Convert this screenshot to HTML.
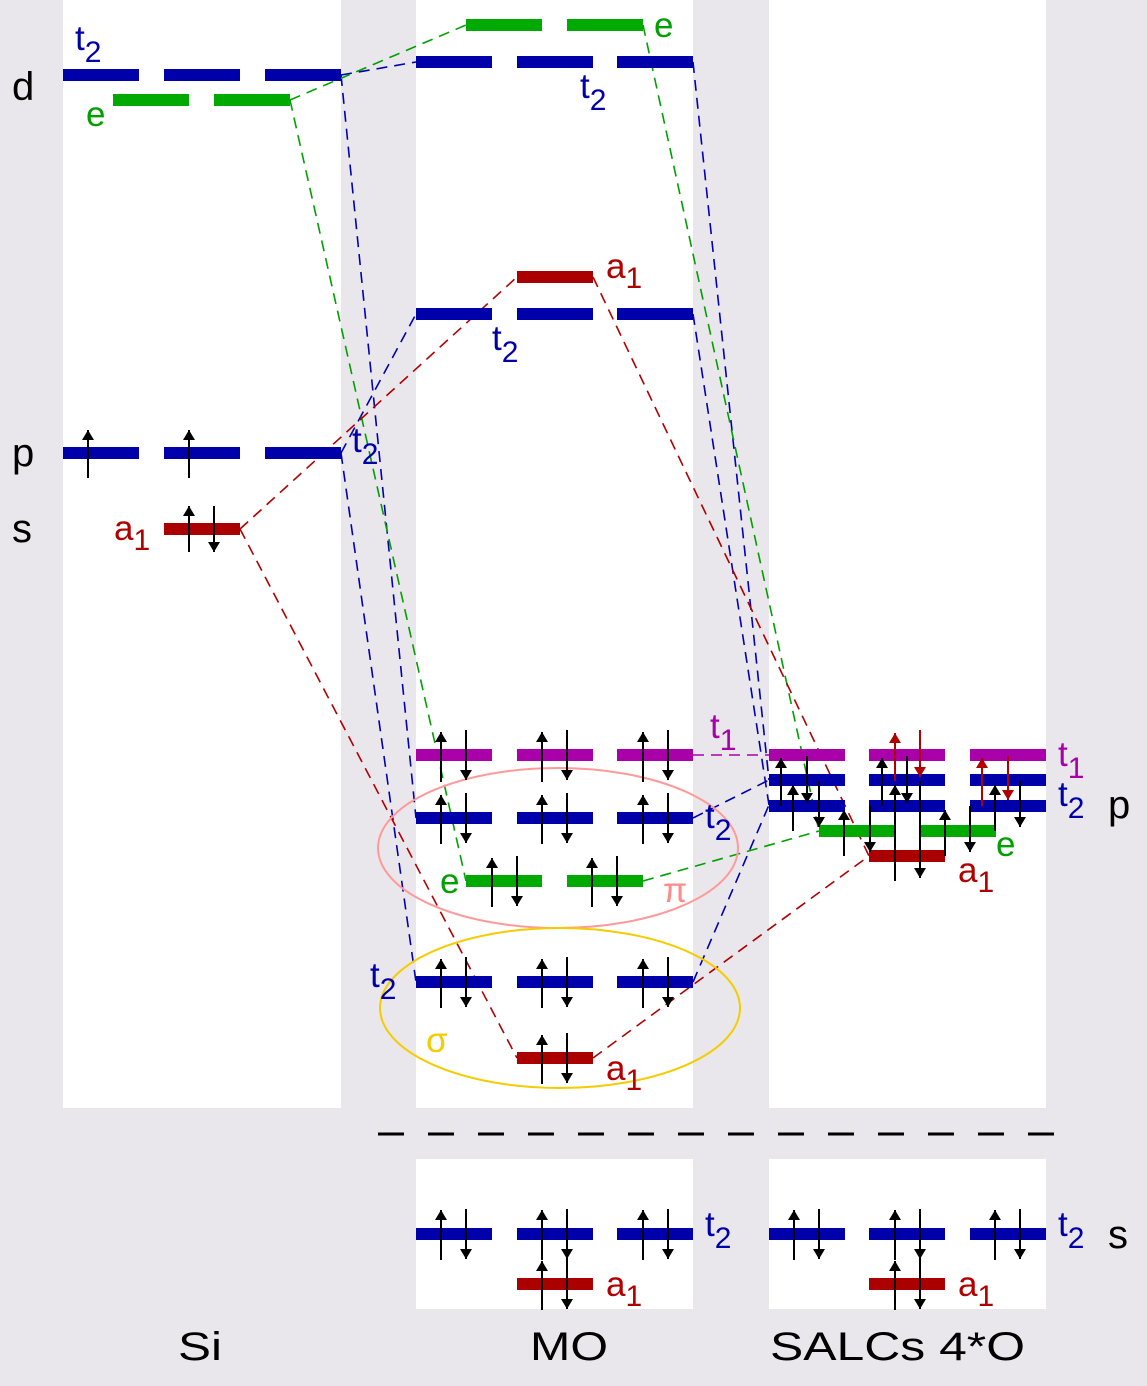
<!DOCTYPE html>
<html><head><meta charset="utf-8"><style>
html,body{margin:0;padding:0;background:#e9e7eb}
svg{display:block}
text{font-family:"Liberation Sans",sans-serif}
</style></head><body>
<svg width="1147" height="1386" viewBox="0 0 1147 1386" xmlns="http://www.w3.org/2000/svg">
<defs>
<marker id="ah" viewBox="0 0 10 12" refX="10" refY="6" markerWidth="10" markerHeight="12" markerUnits="userSpaceOnUse" orient="auto"><path d="M0,0L10,6L0,12z" fill="#000"/></marker>
<marker id="ahr" viewBox="0 0 10 12" refX="10" refY="6" markerWidth="10" markerHeight="12" markerUnits="userSpaceOnUse" orient="auto"><path d="M0,0L10,6L0,12z" fill="#b00000"/></marker>
</defs>
<rect width="1147" height="1386" fill="#e9e7eb"/>
<rect x="63" y="0" width="278" height="1108" fill="#fff"/>
<rect x="416" y="0" width="277" height="1108" fill="#fff"/>
<rect x="769" y="0" width="277" height="1108" fill="#fff"/>
<rect x="416" y="1159" width="277" height="150" fill="#fff"/>
<rect x="769" y="1159" width="277" height="150" fill="#fff"/>
<line x1="378" y1="1134" x2="1065" y2="1134" stroke="#000" stroke-width="3" stroke-dasharray="26,24"/>

<g fill="none" stroke-width="1.6" stroke-dasharray="11,7">
<g stroke="#0000b0">
<path d="M341,75L416,62"/><path d="M341,75L416,818"/><path d="M341,453L416,314"/><path d="M341,453L416,982"/>
<path d="M693,62L769,780"/><path d="M693,314L769,805"/><path d="M693,818L769,780"/><path d="M693,982L769,805"/>
</g>
<g stroke="#00a000">
<path d="M290,100L466,25"/><path d="M290,100L466,881"/><path d="M643,25L819,831"/><path d="M643,881L819,831"/>
</g>
<g stroke="#b00000">
<path d="M240,529L517,277"/><path d="M240,529L517,1058"/><path d="M593,277L869,856"/><path d="M593,1058L869,856"/>
</g>
<path d="M693,755L769,755" stroke="#aa00aa"/>
</g>

<ellipse cx="558" cy="848" rx="180" ry="80" fill="none" stroke="#ff9a9a" stroke-width="2"/>
<ellipse cx="560" cy="1008" rx="180" ry="80" fill="none" stroke="#f5cc00" stroke-width="2"/>

<g stroke-width="12">
<g stroke="#0000aa">
<path d="M63,75h76M164,75h76M265,75h76"/>
<path d="M63,453h76M164,453h76M265,453h76"/>
<path d="M416,62h76M517,62h76M617,62h76"/>
<path d="M416,314h76M517,314h76M617,314h76"/>
<path d="M416,818h76M517,818h76M617,818h76"/>
<path d="M416,982h76M517,982h76M617,982h76"/>
<path d="M416,1234h76M517,1234h76M617,1234h76"/>
<path d="M769,780h76M869,780h76M970,780h76"/>
<path d="M769,806h76M869,806h76M970,806h76"/>
<path d="M769,1234h76M869,1234h76M970,1234h76"/>
</g>
<g stroke="#00aa00">
<path d="M113,100h76M214,100h76"/>
<path d="M466,25h76M567,25h76"/>
<path d="M466,881h76M567,881h76"/>
<path d="M819,831h76M920,831h76"/>
</g>
<g stroke="#aa0000">
<path d="M164,529h76"/><path d="M517,277h76"/><path d="M517,1058h76"/><path d="M517,1284h76"/>
<path d="M869,856h76"/><path d="M869,1284h76"/>
</g>
<g stroke="#aa00aa">
<path d="M416,755h76M517,755h76M617,755h76"/>
<path d="M769,755h76M869,755h76M970,755h76"/>
</g>
</g>

<g stroke="#000" stroke-width="2" marker-end="url(#ah)">
<path d="M88,478V430"/><path d="M189,478V430"/>
<path d="M189,552V506"/><path d="M214,506V552"/>
<path d="M441,782V732"/><path d="M466,730V780"/><path d="M542,782V732"/><path d="M567,730V780"/><path d="M643,782V732"/><path d="M668,730V780"/>
<path d="M441,844V795"/><path d="M466,793V843"/><path d="M542,844V795"/><path d="M567,793V843"/><path d="M643,844V795"/><path d="M668,793V843"/>
<path d="M492,907V858"/><path d="M517,856V906"/><path d="M592,907V858"/><path d="M617,856V906"/>
<path d="M441,1008V959"/><path d="M466,957V1007"/><path d="M542,1008V959"/><path d="M567,957V1007"/><path d="M643,1008V959"/><path d="M668,957V1007"/>
<path d="M542,1084V1035"/><path d="M567,1033V1083"/>
<path d="M441,1260V1210"/><path d="M466,1209V1259"/><path d="M542,1260V1210"/><path d="M567,1209V1259"/><path d="M643,1260V1210"/><path d="M668,1209V1259"/>
<path d="M542,1310V1261"/><path d="M567,1259V1309"/>
<path d="M794,1260V1210"/><path d="M819,1209V1259"/><path d="M895,1260V1210"/><path d="M920,1209V1259"/><path d="M995,1260V1210"/><path d="M1020,1209V1259"/>
<path d="M895,1310V1261"/><path d="M920,1259V1309"/>
<path d="M781,806V758"/><path d="M807,756V803"/><path d="M793,831V785"/><path d="M819,781V827"/><path d="M844,856V810"/>
<path d="M882,806V758"/><path d="M907,756V803"/><path d="M895,881V785"/><path d="M920,781V878"/><path d="M870,806V852"/><path d="M945,856V810"/>
<path d="M995,831V785"/><path d="M1020,781V827"/><path d="M970,806V852"/>
</g>
<g stroke="#b00000" stroke-width="2" marker-end="url(#ahr)">
<path d="M895,781V733"/><path d="M920,730V777"/><path d="M982,806V758"/><path d="M1008,756V800"/>
</g>

<g font-size="40" fill="#000">
<text x="12" y="100">d</text>
<text x="12" y="466">p</text>
<text x="12" y="542">s</text>
<text x="1108" y="818">p</text>
<text x="1108" y="1248">s</text>
<text x="178" y="1360" textLength="44" lengthAdjust="spacingAndGlyphs">Si</text>
<text x="530" y="1360" textLength="78" lengthAdjust="spacingAndGlyphs">MO</text>
<text x="770" y="1360" textLength="255" lengthAdjust="spacingAndGlyphs">SALCs 4*O</text>
</g>
<g font-size="35">
<g fill="#0000aa">
<text x="75" y="50">t<tspan font-size="30" dy="12">2</tspan></text>
<text x="352" y="452">t<tspan font-size="30" dy="12">2</tspan></text>
<text x="580" y="98">t<tspan font-size="30" dy="12">2</tspan></text>
<text x="492" y="350">t<tspan font-size="30" dy="12">2</tspan></text>
<text x="705" y="828">t<tspan font-size="30" dy="12">2</tspan></text>
<text x="370" y="987">t<tspan font-size="30" dy="12">2</tspan></text>
<text x="705" y="1236">t<tspan font-size="30" dy="12">2</tspan></text>
<text x="1058" y="806">t<tspan font-size="30" dy="12">2</tspan></text>
<text x="1058" y="1236">t<tspan font-size="30" dy="12">2</tspan></text>
</g>
<g fill="#00a000">
<text x="86" y="126">e</text>
<text x="654" y="37">e</text>
<text x="440" y="893">e</text>
<text x="996" y="856">e</text>
</g>
<g fill="#b00000">
<text x="114" y="540">a<tspan font-size="30" dy="10">1</tspan></text>
<text x="606" y="278">a<tspan font-size="30" dy="10">1</tspan></text>
<text x="606" y="1080">a<tspan font-size="30" dy="10">1</tspan></text>
<text x="606" y="1296">a<tspan font-size="30" dy="10">1</tspan></text>
<text x="958" y="882">a<tspan font-size="30" dy="10">1</tspan></text>
<text x="958" y="1296">a<tspan font-size="30" dy="10">1</tspan></text>
</g>
<g fill="#aa00aa">
<text x="710" y="738">t<tspan font-size="30" dy="12">1</tspan></text>
<text x="1058" y="766">t<tspan font-size="30" dy="12">1</tspan></text>
</g>
<text x="663" y="902" fill="#ff8a8a">π</text>
<text x="426" y="1052" fill="#f5cc00">σ</text>
</g>
</svg>
</body></html>
